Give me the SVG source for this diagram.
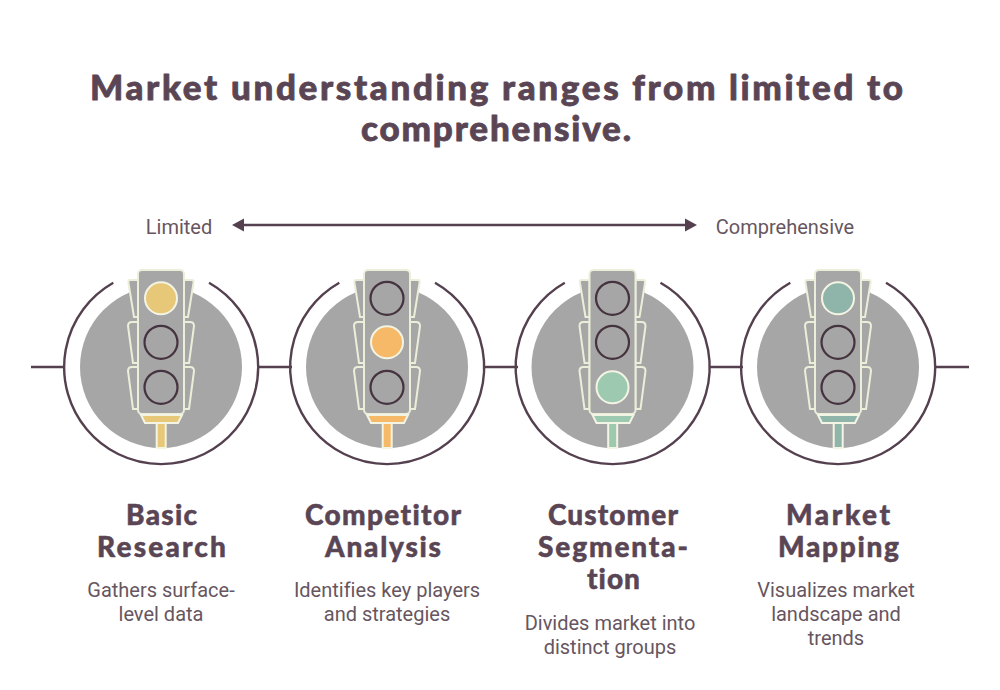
<svg xmlns="http://www.w3.org/2000/svg" width="1000" height="690" viewBox="0 0 1000 690">
<style>
text{fill:#5a4555;text-anchor:middle;font-variant-ligatures:none}
.t{font-family:"Lato","Noto Sans",sans-serif;font-weight:900;font-size:35px;stroke:#5a4555;stroke-width:.8;stroke-linejoin:round}
.h{font-family:"Lato","Noto Sans",sans-serif;font-weight:900;font-size:28px;stroke:#5a4555;stroke-width:.5;stroke-linejoin:round}
.b{font-family:Roboto,"Liberation Sans",sans-serif;font-size:20px;fill:#67565f}
.line{stroke:#54404e;stroke-width:2.4;fill:none}
.disc{fill:#a6a6a6}
.hs{fill:#a6a6a6;stroke:#ebeed8;stroke-width:2;stroke-linejoin:round}
.off{fill:none;stroke:#45333f;stroke-width:2.2}
.on{stroke:#f4f4e4;stroke-width:2}
</style>
<defs>
<g id="housing">
<circle class="disc" cx="0" cy="0" r="81"/>
<path class="hs" d="M-23-87L-31-87Q-33-87-32.500-84L-27-50L-23-50Z M23-87L31-87Q33-87 32.500-84L27-50L23-50Z"/>
<path class="hs" d="M-23-45L-29-45Q-33-45-33-41L-28-4L-23-4Z M23-45L29-45Q33-45 33-41L28-4L23-4Z"/>
<path class="hs" d="M-23 0L-29 0Q-33 0-33 4L-28 42L-23 42Z M23 0L29 0Q33 0 33 4L28 42L23 42Z"/>
<rect class="hs" x="-23" y="-97" width="46" height="144" rx="4"/>
</g>
</defs>
<g id="title">
<text class="t" x="496.500" y="100" textLength="813">Market understanding ranges from limited to</text>
<text class="t" x="496" y="141" textLength="270">comprehensive.</text>
</g>
<g id="scale">
<text class="b" x="179" y="234">Limited</text>
<text class="b" x="785" y="234">Comprehensive</text>
</g>
<g id="connectors">
<path class="line" d="M31 367H64M259 367H292M484 367H518M710 367H743M935 367H969"/>
<path class="line" d="M243 225H687"/>
<path d="M232 225L244 218.500V231.500Z M697 225L685 218.500V231.500Z" fill="#54404e"/>
</g>
<g id="node-basic">
<path class="line" d="M113.300 282.700A97 97 0 1 0 209 282.700"/>
<use href="#housing" x="161" y="367"/>
<path class="on" fill="#e6c878" d="M141 415H182L178 423H145Z M156.700 423H165.700V448H156.700Z"/>
<circle class="on" fill="#e6c878" cx="161" cy="298.300" r="16"/>
<circle class="off" cx="161" cy="342.300" r="16.500"/>
<circle class="off" cx="161" cy="387.300" r="16.500"/>
<text class="h" x="161.500" y="525" textLength="71">Basic</text>
<text class="h" x="161.500" y="557" textLength="129">Research</text>
<text class="b" x="161" y="597">Gathers surface-</text>
<text class="b" x="161" y="621">level data</text>
</g>
<g id="node-competitor">
<path class="line" d="M339.300 282.700A97 97 0 1 0 435 282.700"/>
<use href="#housing" x="387" y="367"/>
<path class="on" fill="#f6b968" d="M367 415H408L404 423H371Z M382.700 423H391.700V448H382.700Z"/>
<circle class="off" cx="387" cy="298.300" r="16.500"/>
<circle class="on" fill="#f6b968" cx="387" cy="342.300" r="16"/>
<circle class="off" cx="387" cy="387.300" r="16.500"/>
<text class="h" x="383" y="525" textLength="156">Competitor</text>
<text class="h" x="383" y="557" textLength="116">Analysis</text>
<text class="b" x="387" y="597">Identifies key players</text>
<text class="b" x="387" y="621">and strategies</text>
</g>
<g id="node-customer">
<path class="line" d="M564.800 282.700A97 97 0 1 0 660.500 282.700"/>
<use href="#housing" x="612.500" y="367"/>
<path class="on" fill="#9cc9af" d="M592.500 415H633.500L629.500 423H596.500Z M608.200 423H617.200V448H608.200Z"/>
<circle class="off" cx="612.500" cy="298.300" r="16.500"/>
<circle class="off" cx="612.500" cy="342.300" r="16.500"/>
<circle class="on" fill="#9cc9af" cx="612.500" cy="387.300" r="16"/>
<text class="h" x="613" y="525" textLength="130">Customer</text>
<text class="h" x="613" y="557" textLength="150">Segmenta-</text>
<text class="h" x="613.500" y="589" textLength="53">tion</text>
<text class="b" x="610" y="630">Divides market into</text>
<text class="b" x="610" y="654">distinct groups</text>
</g>
<g id="node-mapping">
<path class="line" d="M790.300 282.700A97 97 0 1 0 886 282.700"/>
<use href="#housing" x="838" y="367"/>
<path class="on" fill="#8fb5aa" d="M818 415H859L855 423H822Z M833.700 423H842.700V448H833.700Z"/>
<circle class="on" fill="#8fb5aa" cx="838" cy="298.300" r="16"/>
<circle class="off" cx="838" cy="342.300" r="16.500"/>
<circle class="off" cx="838" cy="387.300" r="16.500"/>
<text class="h" x="838" y="525" textLength="104">Market</text>
<text class="h" x="838.500" y="557" textLength="121">Mapping</text>
<text class="b" x="836" y="597">Visualizes market</text>
<text class="b" x="836" y="621">landscape and</text>
<text class="b" x="836" y="645">trends</text>
</g>
</svg>
